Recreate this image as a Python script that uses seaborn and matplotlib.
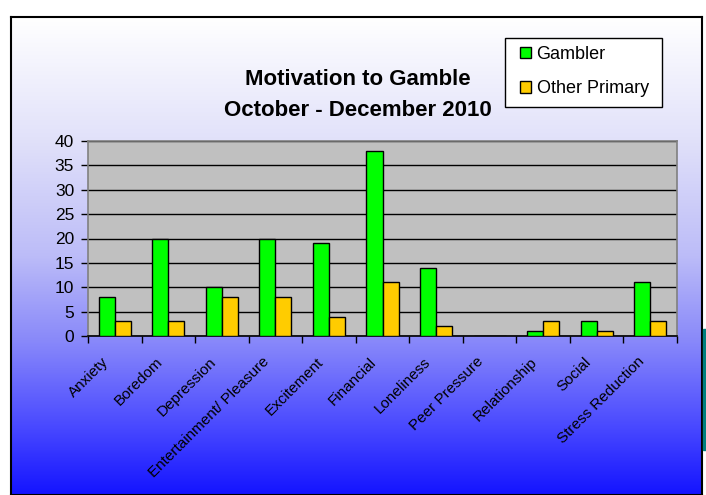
import numpy as np
import pandas as pd
import matplotlib
matplotlib.use("Agg")
import matplotlib.pyplot as plt
import matplotlib.transforms as mtransforms
import seaborn as sns
from matplotlib.colors import LinearSegmentedColormap
from matplotlib.patches import Rectangle

# Dados
motivos = ['Anxiety', 'Boredom', 'Depression', 'Entertainment/ Pleasure', 'Excitement',
           'Financial', 'Loneliness', 'Peer Pressure', 'Relationship', 'Social',
           'Stress Reduction']
gambler = [8, 20, 10, 20, 19, 38, 14, 0, 1, 3, 11]
other_primary = [3, 3, 8, 8, 4, 11, 2, 0, 3, 1, 3]
series = ['Gambler', 'Other Primary']
cores = {'Gambler': '#00FF00', 'Other Primary': '#FFCC00'}

df = pd.DataFrame({'Motivo': motivos, 'Gambler': gambler, 'Other Primary': other_primary})
df_long = df.melt(id_vars='Motivo', value_vars=series, var_name='Grupo', value_name='Total')

sns.set_theme(style="white")
plt.rcParams['font.family'] = ['Liberation Sans', 'DejaVu Sans']
plt.rcParams['text.color'] = 'black'

W, H = 706, 495
fig = plt.figure(figsize=(W / 100, H / 100), dpi=100)
fig.patch.set_facecolor('white')

# Fundo em degradê (branco -> azul)
bg = fig.add_axes([11 / W, 0, (702 - 11) / W, (H - 17) / H], zorder=-5)
cmap_bg = LinearSegmentedColormap.from_list(
    'fundo', [(0.0, '#FFFFFF'), (0.25, '#E2E2FA'), (0.5, '#BCBCF8'),
              (0.68, '#8888FA'), (0.85, '#4C4CFF'), (1.0, '#1414FF')])
bg.imshow(np.linspace(0, 1, 256).reshape(-1, 1), aspect='auto', cmap=cmap_bg,
          extent=[0, 1, 0, 1], origin='upper')
bg.set_xticks([])
bg.set_yticks([])
for s in bg.spines.values():
    s.set_color('black')
    s.set_linewidth(1.5)

fig.patches.append(Rectangle((703 / W, (H - 450) / H), 3 / W, 121 / H,
                             transform=fig.transFigure, color='#007F7F', zorder=10))

# Gráfico de barras
ax = fig.add_axes([88 / W, (H - 336) / H, (677 - 88) / W, (336 - 141) / H])
ax.set_facecolor('#C0C0C0')
sns.barplot(data=df_long, x='Motivo', y='Total', hue='Grupo', palette=cores,
            width=0.6, edgecolor='black', linewidth=1, saturation=1, ax=ax, zorder=3)

ax.set_ylim(0, 40)
ax.set_yticks(range(0, 41, 5))
ax.yaxis.grid(True, color='black', linewidth=1, zorder=0)
ax.set_axisbelow(True)
ax.set_xlim(-0.5, len(motivos) - 0.5)
ax.set_xlabel('')
ax.set_ylabel('')

ax.set_xticks(range(len(motivos)))
ax.set_xticks(np.arange(-0.5, len(motivos), 1), minor=True)
ax.tick_params(axis='x', which='major', length=0, pad=17, labelcolor='black')
ax.tick_params(axis='x', which='minor', length=5, width=1, color='black', bottom=True)
ax.tick_params(axis='y', length=5, width=1, color='black', left=True, labelsize=12.5,
               pad=5, labelcolor='black')
ax.set_xticklabels(motivos, rotation=45, ha='right', va='center',
                   rotation_mode='anchor', fontsize=11)
# deslocar rótulos um pouco para a esquerda (depois do tick_params)
desloc = mtransforms.ScaledTranslation(-8 / 100, 0, fig.dpi_scale_trans)
for lbl in ax.get_xticklabels():
    lbl.set_transform(lbl.get_transform() + desloc)

for lado, s in ax.spines.items():
    s.set_color('#808080')
    s.set_linewidth(1.2)
ax.spines['bottom'].set_color('black')

# Legenda (caixa desenhada à parte, atrás dos eixos)
fig.patches.append(Rectangle((505 / W, (H - 107) / H), 157 / W, 69 / H,
                             transform=fig.transFigure, facecolor='white',
                             edgecolor='black', linewidth=1, zorder=-1))
handles, labels = ax.get_legend_handles_labels()
leg = ax.legend(handles, labels, loc='upper left',
                bbox_to_anchor=(520 / W, (H - 46) / H), bbox_transform=fig.transFigure,
                frameon=False, fontsize=13, borderaxespad=0, borderpad=0,
                handlelength=0.62, handleheight=0.62, handletextpad=0.3,
                labelspacing=0.95, title=None)

# Título
fig.text(358 / W, (H - 95) / H, 'Motivation to Gamble\nOctober - December 2010',
         ha='center', va='center', fontsize=16, fontweight='bold', linespacing=1.6)

plt.savefig('out.png', dpi=100)
plt.close()
